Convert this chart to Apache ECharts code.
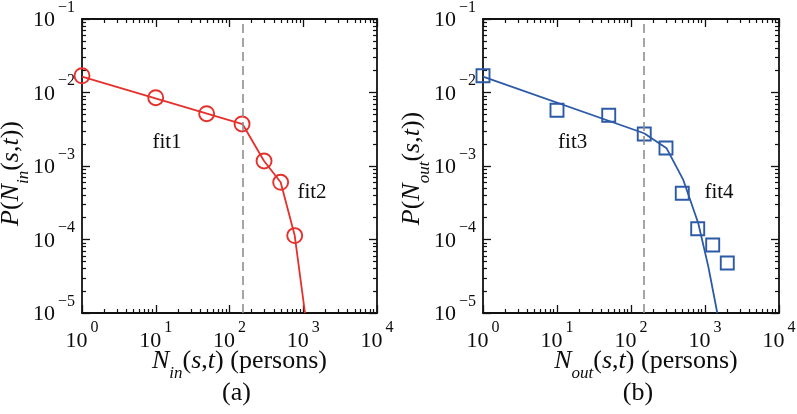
<!DOCTYPE html>
<html><head><meta charset="utf-8">
<script src="https://cdn.jsdelivr.net/npm/echarts@6/dist/echarts.min.js"></script>
<style>html,body{margin:0;padding:0;background:#fff}#c{width:797px;height:414px}</style>
</head><body><div id="c"></div>
<script>
// ---- data ----
const xMajorTicks = [1, 10, 100, 1000, 10000];
const yMajorTicks = [1e-5, 1e-4, 1e-3, 1e-2, 1e-1];
const cutoff = 150;

const inX = [1, 10, 49, 148, 294, 494, 766];
const inY = [0.0169, 0.0085, 0.00515, 0.00373, 0.00117, 0.0006, 0.000113];
const fit1X = [1, 150];
const fit1Y = [0.0165, 0.00372];
const fit2X = [150, 294, 494, 766, 1056];
const fit2Y = [0.00372, 0.00117, 0.0006, 0.000113, 0.00001];

const outX = [1, 10, 50, 151, 297, 493, 797, 1271, 2000];
const outY = [0.0169, 0.00573, 0.0049, 0.00272, 0.00176, 0.000425, 0.00014, 0.000084, 0.000048];
const fit3X = [1, 150];
const fit3Y = [0.0164, 0.00279];
const fit4X = [150, 303, 509, 811, 1109, 1466];
const fit4Y = [0.00279, 0.00174, 0.000646, 0.000166, 0.0000427, 0.00001];

const fitLabels = ['fit1', 'fit2', 'fit3', 'fit4'];
const fitLabelX = [14.2, 1315, 16.3, 1548];
const fitLabelY = [0.00206, 0.00043, 0.00207, 0.00043];
const panelTags = ['(a)', '(b)'];

// ---- helpers ----
const zip = (a, b) => a.map((v, i) => [v, b[i]]);
const minorOf = (majors) => {
  const r = [];
  for (let i = 0; i < majors.length - 1; i++) for (let k = 2; k <= 9; k++) r.push(+(majors[i] * k).toPrecision(6));
  return r;
};
const xMinor = minorOf(xMajorTicks);
const yMinor = minorOf(yMajorTicks);

const SERIF = '"Liberation Serif", "Times New Roman", serif';
const INK = '#0d0d0d';
const RED = '#e5302c';
const BLUE = '#2c5aa6';

const tickRich = {
  b: { fontFamily: SERIF, fontSize: 22, color: INK, height: 22, lineHeight: 32, verticalAlign: 'bottom' },
  s: { fontFamily: SERIF, fontSize: 16, color: INK, height: 16, lineHeight: 16, verticalAlign: 'top', padding: [0, 0, 0, 3] }
};
const fmt = (v) => {
  const e = Math.round(Math.log10(v));
  return '{b|10}{s|' + (e < 0 ? '\u2212' + (-e) : '' + e) + '}';
};
const nameRich = {
  n: { fontFamily: SERIF, fontSize: 26, color: INK, height: 26, lineHeight: 26, verticalAlign: 'top' },
  i: { fontFamily: SERIF, fontStyle: 'italic', fontSize: 26, color: INK, height: 26, lineHeight: 26, verticalAlign: 'top' },
  sub: { fontFamily: SERIF, fontStyle: 'italic', fontSize: 17, color: INK, height: 17, lineHeight: 34, verticalAlign: 'bottom' }
};

const grids = [
  { left: 82, top: 19, width: 295, height: 294, containLabel: false, outerBoundsMode: 'none' },
  { left: 483, top: 19, width: 296, height: 294, containLabel: false, outerBoundsMode: 'none' }
];

const xAxes = [], yAxes = [];
const xNames = ['{i|N}{sub|in}{n|(}{i|s}{n|,}{i|t}{n|) (persons)}', '{i|N}{sub|out}{n|(}{i|s}{n|,}{i|t}{n|) (persons)}'];
const yNames = ['{i|P}{n|(}{i|N}{sub|in}{n|(}{i|s}{n|,}{i|t}{n|))}', '{i|P}{n|(}{i|N}{sub|out}{n|(}{i|s}{n|,}{i|t}{n|))}'];
const xNamePad = [[0, 0, 0, 20], [0, 0, 0, 30]];
const yNamePad = [[0, 15, 0, 0], [0, 5, 0, 0]];
const axisLine = { show: true, onZero: false, lineStyle: { color: '#111', width: 1.8 } };

for (let g = 0; g < 2; g++) {
  ['bottom', 'top'].forEach((pos, pi) => {
    xAxes.push({
      gridIndex: g, type: 'log', logBase: 10, min: 1, max: 10000, position: pos,
      axisLine, splitLine: { show: false },
      axisTick: { inside: true, length: 8, customValues: xMajorTicks, lineStyle: { color: '#111', width: 1.3 } },
      axisLabel: pi === 0 ? { show: true, customValues: xMajorTicks, margin: 7, formatter: fmt, rich: tickRich, hideOverlap: false } : { show: false },
      name: pi === 0 ? xNames[g] : '', nameLocation: 'middle', nameGap: 35, nameMoveOverlap: false,
      nameTextStyle: { rich: nameRich, padding: xNamePad[g] }
    });
    xAxes.push({
      gridIndex: g, type: 'log', logBase: 10, min: 1, max: 10000, position: pos,
      axisLine: { show: false }, splitLine: { show: false },
      axisTick: { inside: true, length: 4, customValues: xMinor, lineStyle: { color: '#111', width: 1.2 } },
      axisLabel: { show: false }
    });
  });
  ['left', 'right'].forEach((pos, pi) => {
    yAxes.push({
      gridIndex: g, type: 'log', logBase: 10, min: 1e-5, max: 1e-1, position: pos,
      axisLine, splitLine: { show: false },
      axisTick: { inside: true, length: 8, customValues: yMajorTicks, lineStyle: { color: '#111', width: 1.3 } },
      axisLabel: pi === 0 ? { show: true, customValues: yMajorTicks, margin: 7, formatter: fmt, rich: tickRich, padding: [0, 0, 7, 0], hideOverlap: false } : { show: false },
      name: pi === 0 ? yNames[g] : '', nameLocation: 'middle', nameGap: 50, nameRotate: 90, nameMoveOverlap: false,
      nameTextStyle: { rich: nameRich, padding: yNamePad[g] }
    });
    yAxes.push({
      gridIndex: g, type: 'log', logBase: 10, min: 1e-5, max: 1e-1, position: pos,
      axisLine: { show: false }, splitLine: { show: false },
      axisTick: { inside: true, length: 4, customValues: yMinor, lineStyle: { color: '#111', width: 1.2 } },
      axisLabel: { show: false }
    });
  });
}

const lineSeries = (name, g, data, color, withCut) => ({
  name, type: 'line', xAxisIndex: g * 4, yAxisIndex: g * 4, data,
  showSymbol: false, symbol: 'none', smooth: false,
  lineStyle: { color, width: 1.8 }, z: 3,
  markLine: withCut ? {
    silent: true, symbol: 'none', label: { show: false },
    lineStyle: { color: '#8f8f8f', type: [9, 5], width: 1.6 },
    data: [{ xAxis: cutoff }]
  } : undefined
});
const pointSeries = (name, g, data, color, symbol, size) => ({
  name, type: 'scatter', xAxisIndex: g * 4, yAxisIndex: g * 4, data,
  symbol, symbolSize: size, z: 4,
  itemStyle: { color: 'rgba(255,255,255,0)', borderColor: color, borderWidth: 1.9, opacity: 1 }
});
const labelSeries = (g, idxs) => ({
  type: 'scatter', xAxisIndex: g * 4, yAxisIndex: g * 4, symbolSize: 1, silent: true,
  itemStyle: { opacity: 0 },
  data: idxs.map(i => ({ value: [fitLabelX[i], fitLabelY[i]], name: fitLabels[i] })),
  label: { show: true, position: 'inside', formatter: p => p.name, fontFamily: SERIF, fontSize: 21, color: INK, opacity: 1 }
});

const option = {
  animation: false,
  backgroundColor: '#ffffff',
  grid: grids,
  xAxis: xAxes,
  yAxis: yAxes,
  title: panelTags.map((t, g) => ({
    text: t, left: grids[g].left + grids[g].width / 2 + 2, top: 375, textAlign: 'center',
    textStyle: { fontFamily: SERIF, fontSize: 26, fontWeight: 'normal', color: INK }
  })),
  series: [
    lineSeries('fit1', 0, zip(fit1X, fit1Y), RED, true),
    lineSeries('fit2', 0, zip(fit2X, fit2Y), RED, false),
    pointSeries('in', 0, zip(inX, inY), RED, 'circle', 15),
    labelSeries(0, [0, 1]),
    lineSeries('fit3', 1, zip(fit3X, fit3Y), BLUE, true),
    lineSeries('fit4', 1, zip(fit4X, fit4Y), BLUE, false),
    pointSeries('out', 1, zip(outX, outY), BLUE, 'rect', 13),
    labelSeries(1, [2, 3])
  ]
};
const chart = echarts.init(document.getElementById('c'), null, { renderer: 'canvas' });
chart.setOption(option);
</script></body></html>
